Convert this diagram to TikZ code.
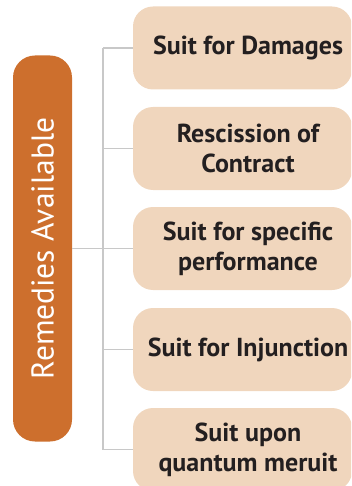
\documentclass[tikz,border=0pt]{standalone}
\usepackage{fontspec}
\setmainfont{PT Sans}
\definecolor{rust}{RGB}{205,111,45}
\definecolor{peach}{RGB}{240,214,189}
\definecolor{ink}{RGB}{35,31,32}
\definecolor{grey}{RGB}{200,200,200}

\begin{document}
\begin{tikzpicture}[x=1pt,y=-1pt]
    \tikzset{%
      bar/.style={draw=none, fill=rust, rounded corners=22pt,
        minimum width=59pt, minimum height=386pt, inner sep=0pt},
      box/.style={draw=none, fill=peach, rounded corners=20pt,
        minimum width=219pt, minimum height=83pt, inner sep=0pt},
      lbl/.style={ink, align=center, inner sep=0pt, xshift=5.5pt,
        font=\bfseries\fontsize{26}{30}\selectfont},
      link/.style={grey, line width=1.8pt},
    }
    \clip (0,0) rectangle (351,486);

    \node[bar] (R) at (42.5,248.5) {};
    \node[white, rotate=90, font=\fontsize{31.5}{36}\selectfont] (RT) at (R) {Remedies Available};

    \node[box] (D1) at (242.5,48) {};
    \node[lbl] (L1) at (D1) {Suit for Damages};
    \node[box] (D2) at (242.5,148.5) {};
    \node[lbl] (L2) at (D2) {Rescission of\\Contract};
    \node[box] (D3) at (242.5,248.5) {};
    \node[lbl] (L3) at (D3) {Suit for specific\\performance};
    \node[box] (D4) at (242.5,349.5) {};
    \node[lbl] (L4) at (D4) {Suit for Injunction};
    \node[box] (D5) at (242.5,449.5) {};
    \node[lbl] (L5) at (D5) {Suit upon\\quantum meruit};

    % trunk
    \coordinate (J1) at (103,48);
    \coordinate (J5) at (103,449.5);
    \draw [link] (J1) -- (J5);

    \draw [link] (J1) -- (D1.west);
    \draw [link] (J1 |- D2) -- (D2.west);
    \draw [link] (R.east) -- (D3.west);
    \draw [link] (J1 |- D4) -- (D4.west);
    \draw [link] (J5) -- (D5.west);
\end{tikzpicture}
\end{document}
